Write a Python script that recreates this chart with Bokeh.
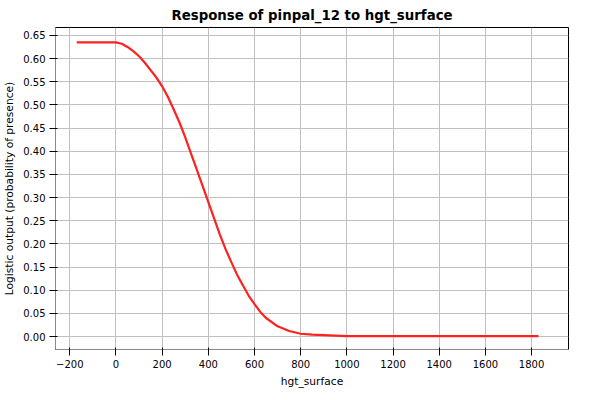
from bokeh.plotting import figure
from bokeh.models import Range1d, FixedTicker, NumeralTickFormatter
from bokeh.embed import file_html
from bokeh.resources import INLINE

# curve
hgt = [-170, 0, 25, 50, 75, 100, 125, 150, 175, 200, 225, 250, 275, 300, 325, 350, 375, 400,
       425, 450, 475, 500, 525, 550, 575, 600, 625, 650, 700, 750, 800, 850, 900, 1000, 1830]
resp = [0.635, 0.635, 0.632, 0.625, 0.616, 0.605, 0.591, 0.575, 0.559, 0.54, 0.517, 0.49, 0.462,
        0.43, 0.395, 0.36, 0.325, 0.29, 0.255, 0.22, 0.188, 0.16, 0.133, 0.11, 0.088, 0.07, 0.053,
        0.04, 0.022, 0.012, 0.006, 0.004, 0.003, 0.001, 0.001]

p = figure(width=584, height=390, output_backend="svg", toolbar_location=None,
           title="Response of pinpal_12 to hgt_surface",
           x_range=Range1d(-262, 1960), y_range=Range1d(-0.028, 0.667),
           min_border_left=0, min_border_right=16, min_border_top=5, min_border_bottom=0)
p.title.align = "center"
p.title.text_font = "DejaVu Sans"
p.title.text_color = "black"
p.title.text_font_size = "10pt"
p.title.text_font_style = "bold"
p.outline_line_color = "black"
p.background_fill_color = "white"

p.xaxis.ticker = FixedTicker(ticks=list(range(-200, 1801, 200)))
p.yaxis.ticker = FixedTicker(ticks=[i * 0.05 for i in range(14)])
p.yaxis.formatter = NumeralTickFormatter(format="0.00")
p.xaxis.axis_label = "hgt_surface"
p.yaxis.axis_label = "Logistic output (probability of presence)"
for ax in (p.xaxis[0], p.yaxis[0]):
    ax.axis_label_text_font = "DejaVu Sans"
    ax.axis_label_text_font_style = "normal"
    ax.axis_label_text_font_size = "8pt"
    ax.axis_label_text_color = "black"
    ax.axis_label_standoff = 4
    ax.major_label_text_font = "DejaVu Sans"
    ax.major_label_text_font_size = "7.5pt"
    ax.major_label_text_color = "black"
    ax.major_label_standoff = 4
    ax.minor_tick_line_color = None
    ax.axis_line_color = "#888888"
p.grid.grid_line_color = "#c0c0c0"

p.line(hgt, resp, line_color="#ff2020", line_width=2.2)

open("out.html", "w").write(file_html(p, INLINE))
